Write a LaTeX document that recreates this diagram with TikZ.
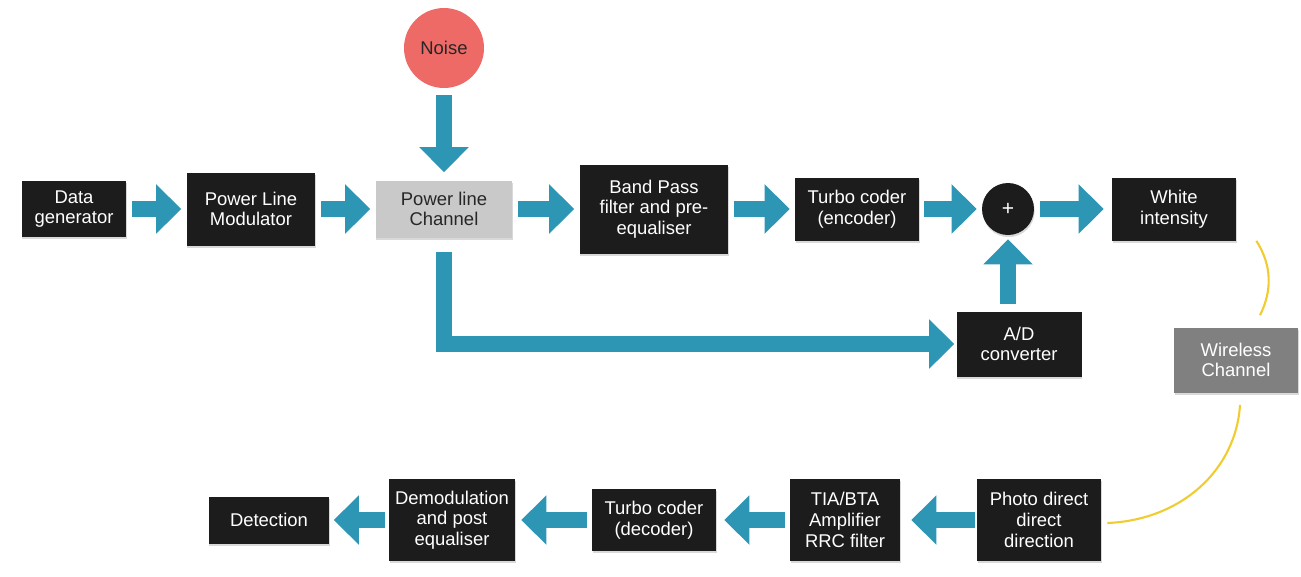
\documentclass[tikz,border=0pt]{standalone}
\usepackage{fontspec}
\setmainfont{Liberation Sans}
\usepackage{xcolor}
\usepackage{tikz}
\usetikzlibrary{arrows.meta, positioning, calc, shadows}
\definecolor{blkbox}{HTML}{1C1C1C}
\definecolor{flowblue}{HTML}{2E96B5}
\definecolor{chgray}{HTML}{C9C9C9}
\definecolor{wlgray}{HTML}{808080}
\definecolor{noisered}{HTML}{EE6A67}
\definecolor{linkyellow}{HTML}{F0CC30}

\begin{document}
\begin{tikzpicture}[x=0.02cm, y=-0.02cm,
    block/.style={rectangle, fill=#1, align=center, text=white, font=\fontsize{10.5}{11.8}\selectfont, drop shadow={shadow xshift=0.4pt, shadow yshift=-1.2pt, opacity=0.3}},
    block/.default=blkbox,
    flow/.style={draw=flowblue, line width=0.32cm, -{Triangle[length=0.5cm, width=0.96cm]}, shorten <=0.1cm, shorten >=0.1cm},
    link/.style={draw=linkyellow, line width=1.2pt}
]
\useasboundingbox (0,0) rectangle (1301,576);

% Transmitter chain
\node[block, minimum width=2.1cm, minimum height=1.12cm] (dg) at (74,209) {Data\\generator};
\node[block, minimum width=2.58cm, minimum height=1.46cm] (plm) at (251,209) {Power Line\\Modulator};
\node[block=chgray, text=black!85, minimum width=2.74cm, minimum height=1.14cm] (plc) at (444,209) {Power line\\Channel};
\node[block, minimum width=2.98cm, minimum height=1.78cm] (bpf) at (654,209) {Band Pass\\filter and pre-\\equaliser};
\node[block, minimum width=2.48cm, minimum height=1.26cm] (tce) at (857,209) {Turbo coder\\(encoder)};
\node[circle, fill=blkbox, text=white, minimum size=1.04cm, inner sep=0pt, font=\large, drop shadow={shadow xshift=0.4pt, shadow yshift=-1.2pt, opacity=0.3}] (sum) at (1008,209) {+};
\node[block, minimum width=2.48cm, minimum height=1.26cm] (wi) at (1174,209) {White\\intensity};

% Noise and side branch
\node[circle, fill=noisered, text=black!85, minimum size=1.6cm, inner sep=0pt, font=\fontsize{10.5}{11.8}\selectfont] (noise) at (444,48) {Noise};
\node[block, minimum width=2.5cm, minimum height=1.3cm] (adc) at (1019,344) {A/D\\converter};
\node[block=wlgray, text=white!92, minimum width=2.48cm, minimum height=1.3cm] (wch) at (1236,360) {Wireless\\Channel};

% Receiver chain
\node[block, minimum width=2.48cm, minimum height=1.64cm] (pd) at (1039,520) {Photo direct\\direct\\direction};
\node[block, minimum width=2.2cm, minimum height=1.64cm] (tia) at (845,520) {TIA/BTA\\Amplifier\\RRC filter};
\node[block, minimum width=2.48cm, minimum height=1.24cm] (tcd) at (654,520) {Turbo coder\\(decoder)};
\node[block, minimum width=2.52cm, minimum height=1.64cm] (dem) at (452,520) {Demodulation\\and post\\equaliser};
\node[block, minimum width=2.42cm, minimum height=0.94cm] (det) at (269,520) {Detection};

% Forward arrows
\draw[flow] (dg) -- (plm);
\draw[flow] (plm) -- (plc);
\draw[flow] (plc) -- (bpf);
\draw[flow] (bpf) -- (tce);
\draw[flow] (tce) -- (sum);
\draw[flow, shorten <=0.12cm, shorten >=0.16cm] (sum) -- (wi);
\draw[flow, shorten <=0.14cm, shorten >=0.16cm] (noise) -- (plc);
\draw[flow, shorten <=0.28cm, shorten >=0.04cm] (plc.south) |- (adc.west);
\draw[flow, shorten <=0.14cm, shorten >=0.08cm] (adc.north -| sum.south) -- (sum.south);

% Backward arrows
\draw[flow, shorten <=0.04cm, shorten >=0.22cm] (pd) -- (tia);
\draw[flow, shorten <=0.1cm, shorten >=0.16cm] (tia) -- (tcd);
\draw[flow, shorten <=0.1cm, shorten >=0.12cm] (tcd) -- (dem);
\draw[flow, shorten <=0.08cm, shorten >=0.08cm] (dem) -- (det);

% Optical link
\draw[link] ($(wi.south east)+(20,0)$) .. controls ($(wi.south east)+(36,25)$) and ($(wch.north)+(36,-36)$) .. ($(wch.north)+(24,-12)$);
\draw[link] ($(wch.south)+(4,12)$) .. controls ($(wch.south)+(0,77)$) and ($(pd.east)+(80,0)$) .. ($(pd.east)+(6,3)$);

\end{tikzpicture}
\end{document}
